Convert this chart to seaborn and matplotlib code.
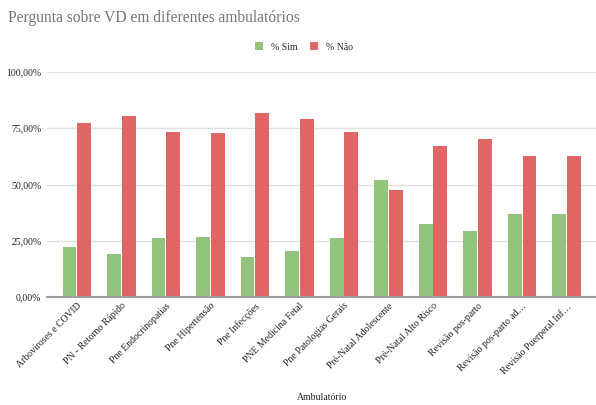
import matplotlib
matplotlib.use("Agg")
import matplotlib.pyplot as plt
import seaborn as sns
import pandas as pd
from matplotlib.ticker import FuncFormatter
from matplotlib.patches import Patch

categories = [
    "Arboviroses e COVID", "PN - Retorno Rápido", "Pne Endocrinopatias",
    "Pne Hipertensão", "Pne Infecções", "PNE Medicina Fetal",
    "Pne Patologias Gerais", "Pré-Natal Adolescente", "Pré-Natal Alto Risco",
    "Revisão pos-parto", "Revisão pos-parto ad…", "Revisão Puerperal Inf…",
]
pct_sim = [0.224, 0.191, 0.262, 0.267, 0.176, 0.203, 0.262, 0.520, 0.326, 0.293, 0.369, 0.369]
pct_nao = [0.772, 0.804, 0.733, 0.729, 0.819, 0.791, 0.733, 0.477, 0.670, 0.702, 0.627, 0.627]
series = ["% Sim", "% Não"]
colors = ["#93c47d", "#e06666"]

df = pd.DataFrame({
    "Ambulatório": categories * 2,
    "valor": pct_sim + pct_nao,
    "serie": [series[0]] * len(categories) + [series[1]] * len(categories),
})

sns.set_theme(style="white")
plt.rcParams["font.family"] = ["Liberation Serif", "DejaVu Serif"]

fig = plt.figure(figsize=(5.96, 4.05), dpi=100)
ax = fig.add_axes([47 / 596, 108 / 405, 549 / 596, 225 / 405])

sns.barplot(data=df, x="Ambulatório", y="valor", hue="serie", palette=colors,
            saturation=1, width=0.66, gap=0.06, linewidth=0,
            ax=ax, legend=False, zorder=3)

ax.set_ylim(0, 1.0)
ax.set_xlim(-0.67, 11.66)
ax.set_yticks([0, 0.25, 0.5, 0.75, 1.0])
ax.yaxis.set_major_formatter(FuncFormatter(lambda v, _: f"{v * 100:.2f}%".replace(".", ",")))
ax.grid(axis="y", color="#e0e0e0", linewidth=1.0, zorder=0)
ax.set_axisbelow(True)
for s in ["top", "right", "left"]:
    ax.spines[s].set_visible(False)
ax.spines["bottom"].set_color("#9e9e9e")
ax.spines["bottom"].set_linewidth(1.5)
ax.spines["bottom"].set_zorder(4)
ax.tick_params(axis="both", length=0, labelsize=7, colors="#222222")
ax.tick_params(axis="y", pad=4)
ax.tick_params(axis="x", pad=3)
plt.setp(ax.get_xticklabels(), rotation=45, ha="right", rotation_mode="anchor")
ax.set_ylabel("")
ax.set_xlabel("Ambulatório", fontsize=7, color="#222222")
ax.xaxis.set_label_coords((322 - 47) / 549, -(398 - 297) / 225)
ax.xaxis.label.set_va("center")

fig.text(8 / 596, 1 - 18 / 405, "Pergunta sobre VD em diferentes ambulatórios",
         fontsize=11.2, color="#757575", va="center", ha="left")

handles = [Patch(facecolor=c, edgecolor="none") for c in colors]
fig.legend(handles, series, loc="center", bbox_to_anchor=(304 / 596, 1 - 47 / 405),
           ncol=2, frameon=False, fontsize=7, handlelength=0.85, handleheight=0.85,
           columnspacing=1.3, handletextpad=0.8)

fig.savefig("out.png", dpi=100)
